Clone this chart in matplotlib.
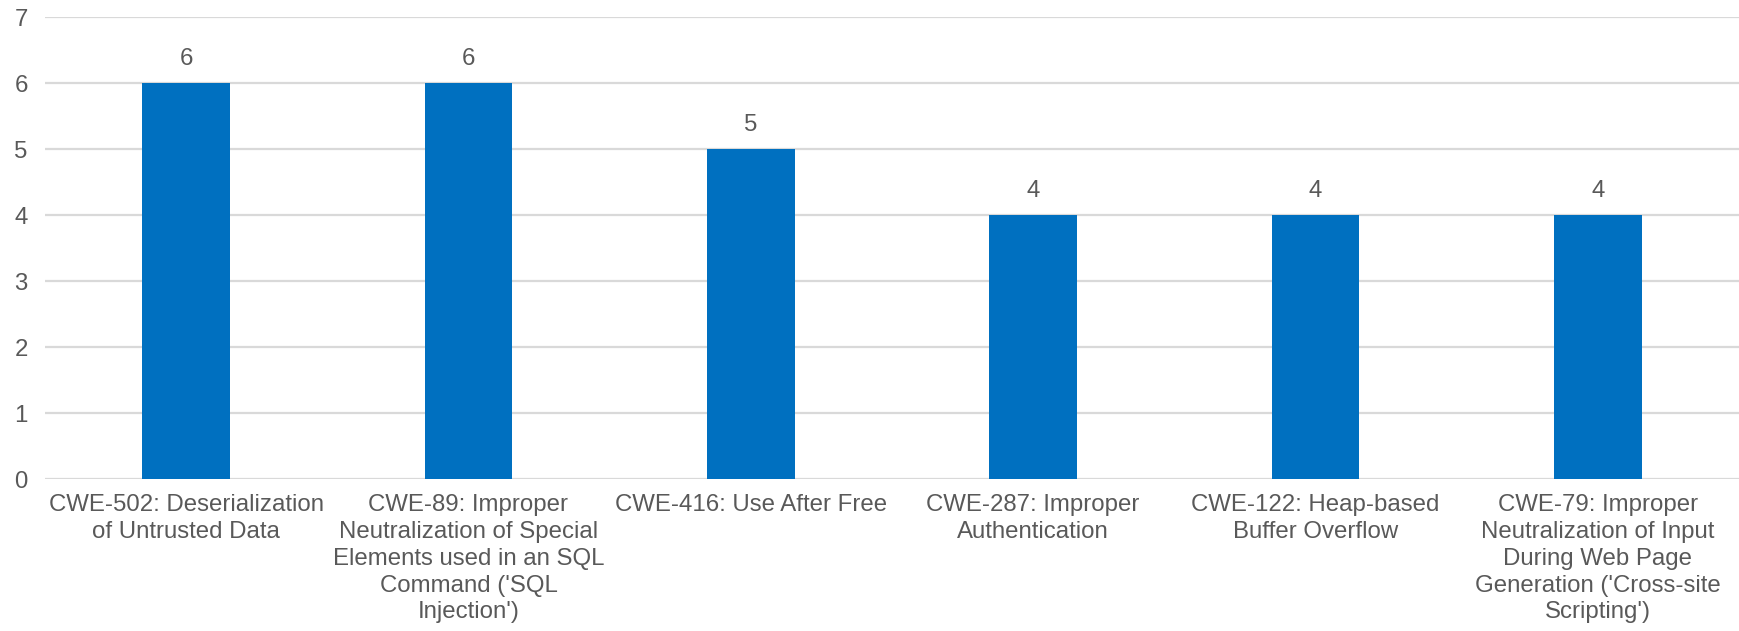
import numpy as np
from matplotlib import pyplot as plt

plt.rcParams["font.family"] = ["Liberation Sans", "DejaVu Sans"]

categories = [
    "CWE-502: Deserialization\nof Untrusted Data",
    "CWE-89: Improper\nNeutralization of Special\nElements used in an SQL\nCommand ('SQL\nInjection')",
    "CWE-416: Use After Free",
    "CWE-287: Improper\nAuthentication",
    "CWE-122: Heap-based\nBuffer Overflow",
    "CWE-79: Improper\nNeutralization of Input\nDuring Web Page\nGeneration ('Cross-site\nScripting')",
]
counts = [6, 6, 5, 4, 4, 4]

txt = "#595959"
fig = plt.figure(figsize=(17.39, 6.31), dpi=100)
ax = fig.add_axes([45/1739, 1 - 479/631, 1 - 45/1739, (479 - 17)/631])

x = np.arange(len(categories))
bars = ax.bar(x, counts, width=0.31, color="#0070C0", zorder=3)
for xi, v in zip(x, counts):
    ax.text(xi, v + 0.2, str(v), ha="center", va="bottom", fontsize=17.3, color=txt)

ax.set_xlim(-0.5, len(categories) - 0.5)
ax.set_ylim(0, 7)
ax.set_yticks(range(0, 8))
ax.yaxis.grid(True, color="#D9D9D9", linewidth=1.6, zorder=0)
ax.set_axisbelow(True)
for s in ax.spines.values():
    s.set_visible(False)
ax.tick_params(axis="both", length=0, labelsize=17.3, labelcolor=txt)
ax.tick_params(axis="y", pad=22)
ax.tick_params(axis="x", pad=11)
ax.set_xticks(x)
ax.set_xticklabels(categories, linespacing=1.28)
for lbl in ax.get_yticklabels():
    lbl.set_horizontalalignment("left")

fig.savefig("out.png", dpi=100)
